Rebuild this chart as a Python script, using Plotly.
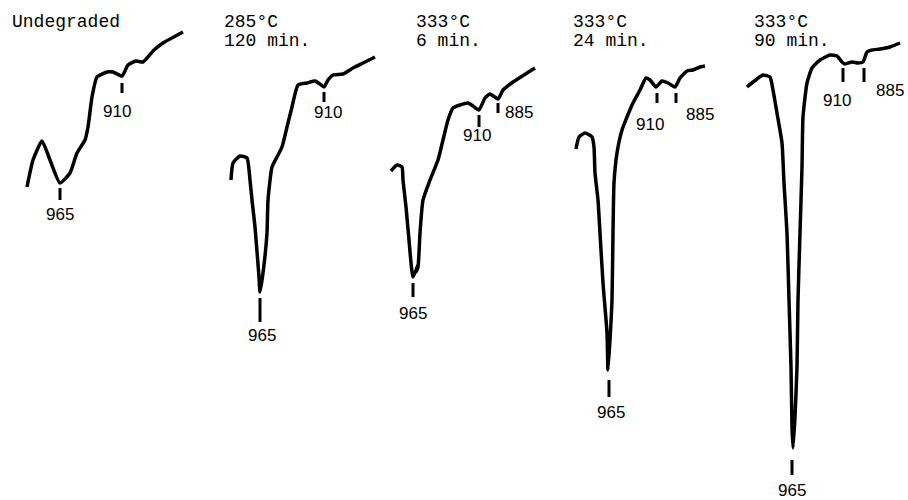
import plotly.graph_objects as go

# Traced spectra (figure coordinates: x to the right, y downward)
undegraded_x = [27, 33, 42, 50, 60, 70, 77, 85, 88, 92, 97, 107, 113, 122, 128, 136, 143, 154, 163, 183]
undegraded_y = [187, 160, 141, 160, 183, 173, 153, 140, 127, 97, 77, 72, 72, 76, 65, 61, 62, 50, 43, 32]

t285_120_x = [231, 233, 240, 247, 250, 252, 255, 259, 260, 263, 267, 268, 272, 277, 282, 287, 292, 298, 307, 315, 320, 324, 328, 333, 343, 353, 363, 375]
t285_120_y = [180, 163, 156, 158, 180, 200, 227, 277, 292, 273, 233, 200, 167, 157, 147, 127, 107, 85, 83, 81, 84, 87, 80, 75, 74, 68, 63, 57]

t333_6_x = [391, 397, 402, 403, 406, 409, 413, 418, 416, 418, 420, 423, 430, 438, 443, 448, 453, 460, 468, 473, 479, 485, 490, 498, 503, 513, 527, 535]
t333_6_y = [171, 165, 167, 180, 207, 240, 277, 265, 272, 267, 233, 200, 180, 160, 140, 120, 108, 105, 103, 106, 110, 98, 94, 99, 90, 82, 73, 68]

t333_24_x = [576, 579, 585, 592, 594, 595, 598, 600, 603, 607, 608, 610, 612, 613, 614, 617, 622, 627, 633, 640, 646, 650, 656, 662, 668, 675, 680, 687, 693, 700, 705]
t333_24_y = [149, 137, 133, 137, 147, 173, 200, 233, 283, 333, 370, 340, 300, 233, 183, 153, 130, 117, 103, 90, 78, 80, 87, 81, 83, 87, 78, 71, 70, 67, 66]

t333_90_x = [747, 753, 763, 770, 773, 777, 782, 784, 787, 789, 791, 792, 793, 795, 797, 798, 800, 802, 803, 807, 812, 820, 830, 837, 842, 845, 852, 858, 863, 867, 872, 880, 890, 900]
t333_90_y = [87, 82, 75, 77, 90, 113, 143, 183, 233, 300, 367, 427, 448, 417, 367, 300, 233, 167, 117, 83, 68, 60, 55, 56, 62, 64, 62, 63, 62, 52, 50, 49, 47, 43]

# Band marks: x, top, bottom
band_x = [60, 122, 260, 324, 413, 479, 498, 609, 657, 676, 792, 843, 864]
band_y0 = [188, 83, 298, 92, 283, 115, 103, 380, 93, 93, 460, 68, 68]
band_y1 = [200, 93, 322, 102, 297, 127, 113, 397, 103, 103, 475, 82, 82]

# Band labels
label_text = ["965", "910", "965", "910", "965", "910", "885", "965", "910", "885", "965", "910", "885"]
label_x = [60, 117, 262, 328, 413, 477, 519, 611, 650, 700, 792, 837, 890]
label_y = [214, 111, 335, 112, 313, 135, 112, 412, 124, 114, 490, 100, 90]

# Panel titles (two lines each)
title_line1 = ["Undegraded", "285°C", "333°C", "333°C", "333°C"]
title_line2 = ["", "120 min.", "6 min.", "24 min.", "90 min."]
title_x = [11, 223, 415, 572, 753]
title_y1 = [22, 22, 22, 22, 22]
title_y2 = [41, 41, 41, 41, 41]

fig = go.Figure()
for xs, ys in [(undegraded_x, undegraded_y), (t285_120_x, t285_120_y), (t333_6_x, t333_6_y),
               (t333_24_x, t333_24_y), (t333_90_x, t333_90_y)]:
    fig.add_trace(go.Scatter(x=xs, y=ys, mode="lines",
                             line=dict(color="black", width=3.5, shape="spline", smoothing=0.5),
                             hoverinfo="skip", showlegend=False))

bx, by = [], []
for x, a, b in zip(band_x, band_y0, band_y1):
    bx += [x, x, None]
    by += [a, b, None]
fig.add_trace(go.Scatter(x=bx, y=by, mode="lines", line=dict(color="black", width=3),
                         hoverinfo="skip", showlegend=False))

for t, x, y in zip(label_text, label_x, label_y):
    fig.add_annotation(x=x, y=y, text=t, showarrow=False, xanchor="center", yanchor="middle",
                       font=dict(family="Liberation Sans", size=17, color="black"))

title_font = dict(family="Liberation Mono", size=18, color="black")
for t1, t2, x, y1, y2 in zip(title_line1, title_line2, title_x, title_y1, title_y2):
    fig.add_annotation(x=x, y=y1, text=t1, showarrow=False, xanchor="left", yanchor="middle",
                       xshift=-1, font=title_font)
    if t2:
        fig.add_annotation(x=x, y=y2, text=t2, showarrow=False, xanchor="left", yanchor="middle",
                           xshift=-1, font=title_font)

fig.update_layout(
    width=908, height=500,
    margin=dict(l=0, r=0, t=0, b=0),
    paper_bgcolor="white", plot_bgcolor="white",
    xaxis=dict(range=[0, 908], visible=False, fixedrange=True),
    yaxis=dict(range=[500, 0], visible=False, fixedrange=True),
)

fig.write_html("out.html")
